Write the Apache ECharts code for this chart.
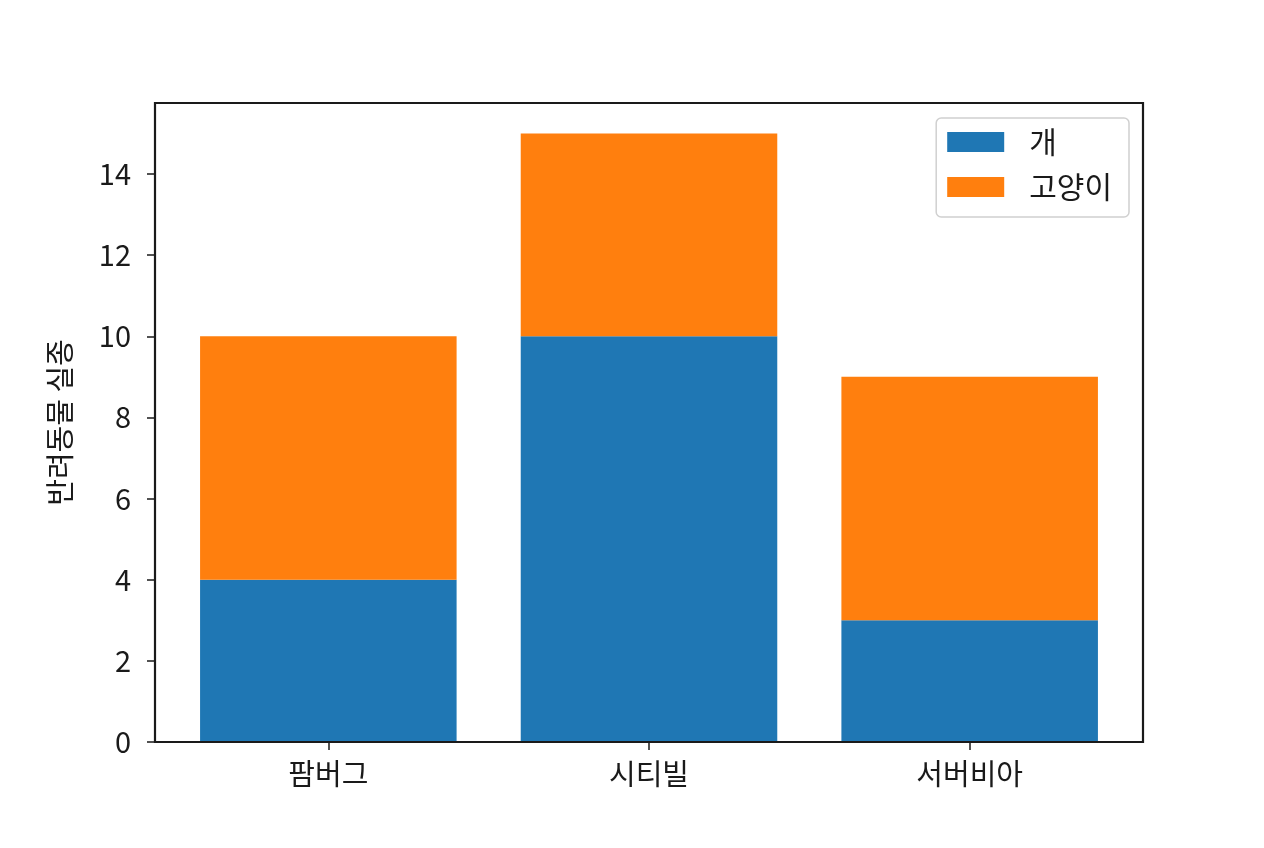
<!DOCTYPE html>
<html><head><meta charset="utf-8">
<script src="https://cdn.jsdelivr.net/npm/echarts@6/dist/echarts.min.js"></script>
<style>html,body{margin:0;padding:0;background:#fff}#c{width:1264px;height:848px}</style>
</head><body><div id="c"></div>
<script>
const categories = ['팜버그', '시티빌', '서버비아'];
const dogValues = [4, 10, 3];
const catValues = [6, 5, 6];
const seriesNames = ['개', '고양이'];
const yAxisName = '반려동물 실종';
const yMin = 0, yMax = 15.75, yInterval = 2;

const font = 'Noto Sans CJK KR, sans-serif';
const fs = 29;
const chart = echarts.init(document.getElementById('c'));
chart.setOption({
  animation: false,
  backgroundColor: '#fff',
  textStyle: { fontFamily: font },
  grid: [
    { left: 155, top: 103, width: 988, height: 639, show: true, borderColor: '#1a1a1a', borderWidth: 2.2, backgroundColor: 'transparent', z: 5 },
    { left: 168, top: 103, width: 962, height: 639 }
  ],
  legend: {
    orient: 'vertical', right: 135, top: 118,
    data: seriesNames,
    itemWidth: 57, itemHeight: 20, itemGap: 15,
    padding: [9, 17, 15, 11],
    borderColor: '#d0d0d0', borderWidth: 1.5, borderRadius: 5,
    backgroundColor: 'rgba(255,255,255,0.9)',
    icon: 'rect',
    textStyle: { fontSize: 30, color: '#1a1a1a', lineHeight: 30, padding: [0, 0, 0, 20], fontFamily: font }
  },
  xAxis: [
    { type: 'category', gridIndex: 0, data: categories, show: false },
    { type: 'category', gridIndex: 1, data: categories,
      axisLine: { show: false },
      axisTick: { show: true, alignWithLabel: true, length: 8, lineStyle: { color: '#1a1a1a', width: 1.5 } },
      axisLabel: { fontSize: fs, color: '#1a1a1a', margin: 17, fontFamily: font } }
  ],
  yAxis: [
    { type: 'value', gridIndex: 0, min: yMin, max: yMax, interval: yInterval,
      name: yAxisName, nameLocation: 'middle', nameGap: 81, nameRotate: 90,
      nameTextStyle: { fontSize: fs, color: '#1a1a1a', fontFamily: font },
      splitLine: { show: false },
      axisLine: { show: false },
      axisTick: { show: true, length: 8, lineStyle: { color: '#1a1a1a', width: 1.5 } },
      axisLabel: { fontSize: fs, color: '#1a1a1a', margin: 24, showMaxLabel: false, fontFamily: font,
        formatter: v => (v % 2 === 0 ? String(v) : '') } },
    { type: 'value', gridIndex: 1, min: yMin, max: yMax, interval: yInterval, show: false, splitLine: { show: false } }
  ],
  series: [
    { name: seriesNames[0], type: 'bar', stack: 'pets', xAxisIndex: 1, yAxisIndex: 1, data: dogValues, barWidth: '80%', itemStyle: { color: '#1f77b4' } },
    { name: seriesNames[1], type: 'bar', stack: 'pets', xAxisIndex: 1, yAxisIndex: 1, data: catValues, barWidth: '80%', itemStyle: { color: '#ff7f0e' } }
  ]
});
</script></body></html>
